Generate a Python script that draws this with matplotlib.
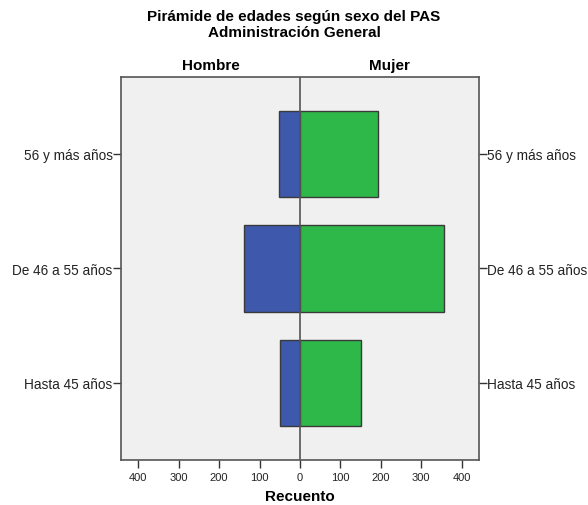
import matplotlib
matplotlib.use("Agg")
import matplotlib.pyplot as plt
from matplotlib.ticker import FuncFormatter

plt.rcParams['font.family'] = ['Liberation Sans', 'DejaVu Sans']

categories = ["Hasta 45 años", "De 46 a 55 años", "56 y más años"]
hombre = [49, 139, 52]
mujer = [152, 357, 192]
xticks = [-400, -300, -200, -100, 0, 100, 200, 300, 400]

fig = plt.figure(figsize=(5.88, 5.06), dpi=100)
fig.patch.set_facecolor('white')
ax = fig.add_axes([121/588, 1 - 460.7/506, (479 - 121)/588, (460.7 - 78)/506])
ax.set_facecolor('#f0f0f0')

y = list(range(len(categories)))
edge = '#3a3a3a'
ax.barh(y, [-v for v in hombre], height=0.755, color='#3e58ac', edgecolor=edge, linewidth=1.0, zorder=2)
ax.barh(y, mujer, height=0.755, color='#2eb84a', edgecolor=edge, linewidth=1.0, zorder=2)
ax.axvline(0, color='#555555', linewidth=1.2, zorder=3)

ax.set_xlim(-443, 443)
ax.set_ylim(-0.67, 2.67)
ax.set_yticks(y)
ax.set_yticklabels(categories, fontsize=9.8, color='#222222')
ax.tick_params(axis='y', which='both', left=True, right=True, labelleft=True, labelright=True,
               length=6, width=1, color='#333333', pad=0)
ax.set_xticks(xticks)
ax.xaxis.set_major_formatter(FuncFormatter(lambda v, p: f"{abs(int(v))}"))
ax.tick_params(axis='x', length=6, width=1, color='#333333', labelsize=8, labelcolor='#222222', pad=3)

for s in ax.spines.values():
    s.set_color('#555555')
    s.set_linewidth(1.2)

ax.set_xlabel('Recuento', fontsize=11, fontweight='bold', labelpad=5)

fig.text(0.5, 1 - 17.5/506, 'Pirámide de edades según sexo del PAS', ha='center', va='center',
         fontsize=11, fontweight='bold')
fig.text(0.5, 1 - 33/506, 'Administración General', ha='center', va='center',
         fontsize=11, fontweight='bold')
ax.text(-221.5, 1.012, 'Hombre', transform=ax.get_xaxis_transform(), ha='center', va='bottom',
        fontsize=11, fontweight='bold')
ax.text(221.5, 1.012, 'Mujer', transform=ax.get_xaxis_transform(), ha='center', va='bottom',
        fontsize=11, fontweight='bold')

fig.savefig('out.png', dpi=100)
